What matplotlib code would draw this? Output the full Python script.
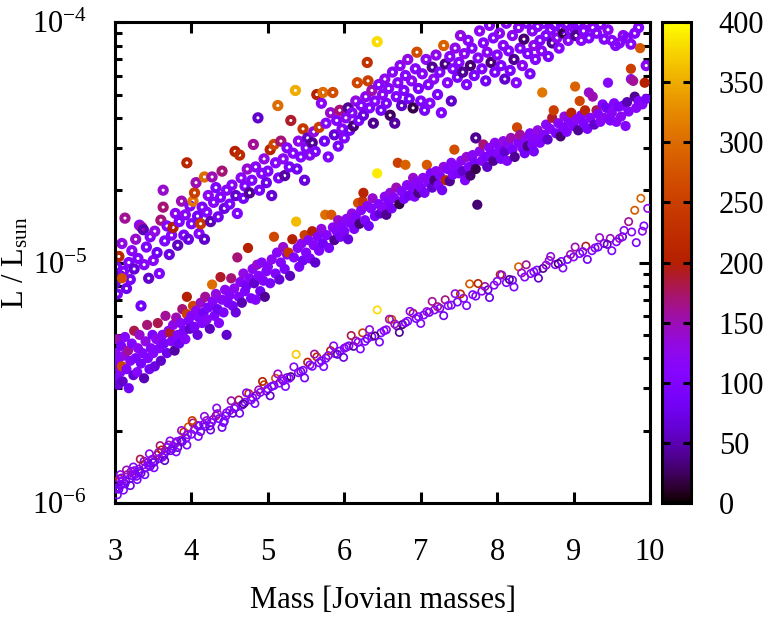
import numpy as np
import matplotlib
matplotlib.use("Agg")
import matplotlib.pyplot as plt
from matplotlib.ticker import FixedLocator, LogLocator, NullFormatter, FuncFormatter
from matplotlib.colors import Normalize

# (mass [M_J], luminosity [1e-6 L_sun], temperature)
ring_pts = [
    (3.00, 8.2, 80), (3.02, 9.6, 110), (3.03, 7.4, 95), (3.05, 10.6, 210), (3.07, 8.8, 60),
    (3.09, 12.0, 130), (3.11, 9.2, 100), (3.13, 15.3, 160), (3.15, 7.8, 75), (3.18, 10.0, 105),
    (3.20, 8.5, 90), (3.22, 11.2, 120), (3.25, 9.4, 65), (3.27, 12.5, 140), (3.30, 10.4, 100),
    (3.32, 14.3, 120), (3.35, 14.0, 150), (3.34, 6.6, 85), (3.37, 13.7, 50), (3.38, 9.8, 110),
    (3.41, 11.6, 95), (3.44, 8.6, 60), (3.46, 12.8, 105), (3.50, 10.2, 115), (3.52, 13.5, 130),
    (3.55, 11.0, 80), (3.58, 9.0, 100), (3.60, 15.0, 170), (3.63, 20.0, 140), (3.63, 17.0, 170),
    (3.65, 12.3, 95), (3.68, 14.2, 110), (3.71, 10.8, 70), (3.74, 13.0, 105), (3.76, 14.0, 200),
    (3.79, 16.0, 120), (3.82, 11.8, 55), (3.84, 14.8, 100), (3.87, 18.0, 150), (3.90, 13.0, 90),
    (3.92, 15.8, 115), (3.94, 26.0, 210), (3.96, 12.5, 70), (3.98, 17.2, 105), (4.00, 14.5, 100),
    (4.02, 18.0, 310), (4.04, 19.5, 250), (4.06, 21.5, 150), (4.08, 15.6, 85), (4.10, 13.2, 110),
    (4.12, 14.5, 240), (4.14, 17.0, 95), (4.17, 22.7, 300), (4.17, 12.5, 60), (4.20, 16.2, 105),
    (4.22, 19.0, 120), (4.25, 14.8, 50), (4.27, 22.7, 150), (4.29, 17.8, 110), (4.32, 20.5, 95),
    (4.35, 15.5, 80), (4.38, 18.7, 100), (4.40, 24.0, 170), (4.43, 16.8, 70), (4.46, 20.0, 115),
    (4.50, 17.5, 95), (4.53, 21.0, 110), (4.57, 29.0, 200), (4.58, 19.0, 60), (4.60, 16.0, 100),
    (4.63, 28.0, 220), (4.65, 22.5, 120), (4.68, 18.5, 85), (4.70, 20.8, 105), (4.73, 24.5, 140),
    (4.76, 19.5, 40), (4.79, 22.0, 100), (4.81, 31.0, 160), (4.84, 25.0, 115), (4.87, 40.0, 60),
    (4.89, 20.0, 90), (4.92, 23.5, 110), (4.95, 27.0, 130), (4.98, 21.5, 75), (5.00, 24.0, 100),
    (5.03, 29.5, 210), (5.05, 19.0, 65), (5.08, 31.0, 260), (5.10, 26.0, 110), (5.13, 45.0, 300),
    (5.14, 22.5, 95), (5.17, 32.0, 170), (5.20, 27.0, 120), (5.22, 23.0, 45), (5.25, 30.0, 105),
    (5.28, 25.0, 90), (5.30, 39.0, 190), (5.33, 28.5, 110), (5.36, 52.0, 350), (5.38, 24.5, 80),
    (5.40, 32.0, 125), (5.43, 27.5, 100), (5.46, 36.0, 240), (5.48, 22.0, 70), (5.50, 30.0, 105),
    (5.52, 33.0, 60), (5.55, 28.0, 115), (5.58, 31.5, 40), (5.60, 35.0, 130), (5.62, 29.0, 95),
    (5.64, 50.0, 200), (5.67, 36.5, 250), (5.70, 46.0, 120), (5.72, 51.0, 300), (5.74, 32.0, 85),
    (5.76, 38.0, 110), (5.79, 27.5, 100), (5.82, 42.0, 140), (5.85, 51.0, 270), (5.87, 34.0, 65),
    (5.90, 39.0, 105), (5.92, 30.5, 90), (5.94, 43.0, 170), (5.97, 36.0, 115), (6.00, 33.0, 100),
    (6.02, 40.0, 120), (6.05, 44.0, 40), (6.07, 35.5, 85), (6.10, 42.0, 105), (6.12, 37.0, 30),
    (6.15, 47.0, 130), (6.17, 56.0, 260), (6.19, 39.0, 95), (6.22, 45.0, 110), (6.25, 41.0, 70),
    (6.28, 49.0, 120), (6.31, 57.0, 250), (6.30, 68.0, 230), (6.33, 44.0, 100), (6.36, 52.0, 150),
    (6.38, 38.0, 40), (6.40, 47.0, 110), (6.43, 83.0, 380), (6.45, 55.0, 105), (6.48, 43.0, 85),
    (6.50, 50.0, 120), (6.53, 58.0, 125), (6.55, 46.0, 95), (6.58, 53.0, 110), (6.60, 41.0, 25),
    (6.63, 62.0, 115), (6.66, 38.0, 45), (6.68, 49.0, 100), (6.70, 56.0, 115), (6.73, 66.0, 120),
    (6.75, 45.0, 60), (6.78, 52.0, 100), (6.80, 60.0, 110), (6.83, 70.0, 130), (6.85, 48.0, 85),
    (6.88, 57.0, 120), (6.90, 44.0, 20), (6.93, 64.0, 105), (6.95, 75.0, 270), (6.97, 53.0, 95),
    (7.00, 47.0, 100), (7.02, 61.0, 115), (7.05, 43.0, 90), (7.07, 70.0, 120), (7.10, 55.0, 105),
    (7.12, 46.0, 110), (7.15, 65.0, 40), (7.17, 58.0, 120), (7.20, 73.0, 125), (7.22, 50.0, 95),
    (7.25, 62.0, 105), (7.27, 42.0, 100), (7.30, 80.0, 290), (7.32, 67.0, 35), (7.35, 56.0, 110),
    (7.38, 72.0, 115), (7.40, 47.0, 60), (7.42, 64.0, 100), (7.45, 78.0, 125), (7.48, 59.0, 90),
    (7.50, 68.0, 110), (7.52, 88.0, 130), (7.55, 62.0, 40), (7.57, 74.0, 120), (7.60, 55.0, 100),
    (7.62, 84.0, 115), (7.65, 66.0, 30), (7.67, 78.0, 105), (7.70, 60.0, 95), (7.72, 33.0, 40),
    (7.75, 71.0, 115), (7.77, 92.0, 120), (7.80, 64.0, 100), (7.82, 82.0, 110), (7.85, 57.0, 85),
    (7.87, 75.0, 120), (7.90, 97.0, 115), (7.92, 68.0, 30), (7.95, 86.0, 105), (7.97, 62.0, 95),
    (8.00, 73.0, 110), (8.03, 90.0, 120), (8.05, 66.0, 100), (8.08, 80.0, 115), (8.10, 58.0, 60),
    (8.12, 99.0, 115), (8.15, 76.0, 105), (8.17, 63.0, 95), (8.20, 88.0, 120), (8.22, 70.0, 40),
    (8.25, 56.0, 110), (8.28, 95.0, 120), (8.30, 78.0, 105), (8.33, 66.0, 120), (8.35, 85.0, 30),
    (8.38, 99.0, 110), (8.40, 74.0, 100), (8.43, 61.0, 90), (8.46, 92.0, 115), (8.48, 80.0, 125),
    (8.50, 70.0, 105), (8.53, 96.0, 110), (8.56, 84.0, 100), (8.58, 76.0, 120), (8.61, 99.0, 115),
    (8.64, 88.0, 100), (8.67, 72.0, 95), (8.70, 93.0, 110), (8.72, 82.0, 40), (8.75, 97.0, 105),
    (8.78, 86.0, 120), (8.81, 78.0, 110), (8.84, 94.0, 100), (8.87, 90.0, 20), (8.90, 98.0, 105),
    (8.93, 84.0, 115), (8.96, 92.0, 100), (9.00, 95.0, 110), (9.03, 88.0, 40), (9.06, 98.0, 100),
    (9.10, 84.0, 120), (9.13, 92.0, 105), (9.17, 99.0, 115), (9.20, 86.0, 100), (9.25, 95.0, 120),
    (9.30, 90.0, 105), (9.35, 98.0, 110), (9.40, 85.0, 100), (9.45, 93.0, 120), (9.50, 84.0, 115),
    (9.55, 80.0, 105), (9.60, 82.0, 110), (9.65, 88.0, 120), (9.70, 86.0, 100), (9.75, 81.0, 115),
    (9.80, 90.0, 105), (9.85, 95.0, 110), (9.95, 66.0, 120),
]

filled_pts = [
    (3.00, 3.3, 100), (3.01, 4.2, 120), (3.02, 3.7, 90), (3.03, 4.8, 150), (3.04, 3.1, 70),
    (3.05, 4.0, 105), (3.07, 3.5, 110), (3.08, 4.5, 95), (3.09, 3.7, 260), (3.09, 8.6, 270),
    (3.10, 3.2, 60), (3.12, 4.1, 130), (3.13, 4.9, 110), (3.15, 3.6, 100), (3.17, 4.3, 160),
    (3.18, 3.0, 80), (3.20, 3.9, 115), (3.22, 4.6, 100), (3.24, 3.4, 65), (3.25, 5.2, 180),
    (3.27, 4.0, 95), (3.29, 3.5, 110), (3.30, 4.4, 120), (3.32, 5.0, 140), (3.34, 3.8, 90),
    (3.36, 4.2, 105), (3.38, 3.3, 50), (3.40, 4.7, 130), (3.42, 5.5, 170), (3.43, 4.0, 100),
    (3.45, 3.6, 85), (3.47, 4.4, 110), (3.49, 5.0, 95), (3.50, 4.2, 105), (3.52, 3.7, 70),
    (3.54, 4.8, 120), (3.56, 5.6, 180), (3.58, 4.4, 100), (3.60, 3.9, 60), (3.62, 5.0, 115),
    (3.64, 4.6, 90), (3.66, 6.0, 160), (3.68, 4.2, 75), (3.70, 5.2, 110), (3.72, 5.1, 190),
    (3.74, 4.7, 100), (3.76, 5.5, 125), (3.78, 4.3, 45), (3.80, 5.9, 150), (3.82, 5.0, 105),
    (3.84, 4.6, 80), (3.86, 5.6, 115), (3.88, 6.4, 170), (3.90, 5.2, 95), (3.92, 4.8, 110),
    (3.94, 7.2, 200), (3.94, 6.1, 250), (3.96, 5.7, 100), (3.98, 5.3, 60), (4.00, 6.0, 105),
    (4.02, 6.6, 260), (4.04, 5.4, 90), (4.06, 6.3, 120), (4.08, 5.0, 70), (4.10, 5.9, 110),
    (4.12, 6.8, 140), (4.14, 5.6, 100), (4.16, 6.2, 85), (4.18, 7.2, 160), (4.20, 5.8, 115),
    (4.22, 6.5, 95), (4.24, 5.3, 55), (4.27, 8.1, 300), (4.28, 6.9, 110), (4.30, 6.0, 100),
    (4.32, 7.4, 130), (4.34, 6.4, 80), (4.36, 5.6, 105), (4.38, 8.7, 190), (4.40, 7.0, 115),
    (4.42, 6.2, 95), (4.44, 7.7, 120), (4.46, 5.0, 60), (4.48, 6.8, 100), (4.50, 7.3, 110),
    (4.52, 8.6, 170), (4.54, 6.6, 90), (4.56, 7.8, 120), (4.58, 6.2, 70), (4.60, 10.5, 170),
    (4.62, 7.2, 105), (4.64, 8.3, 115), (4.66, 6.8, 50), (4.68, 9.0, 130), (4.70, 7.6, 100),
    (4.72, 8.0, 85), (4.74, 11.5, 200), (4.76, 8.6, 110), (4.78, 7.1, 95), (4.80, 9.4, 120),
    (4.82, 8.2, 60), (4.84, 7.0, 100), (4.86, 9.8, 140), (4.88, 8.8, 110), (4.90, 7.6, 80),
    (4.92, 10.0, 115), (4.94, 8.4, 100), (4.96, 7.2, 40), (4.98, 9.2, 105), (5.00, 9.6, 110),
    (5.03, 8.2, 90), (5.05, 10.3, 120), (5.08, 12.8, 260), (5.10, 9.0, 100), (5.12, 11.0, 115),
    (5.15, 8.5, 65), (5.17, 10.0, 105), (5.20, 11.6, 140), (5.22, 9.4, 95), (5.25, 10.8, 110),
    (5.27, 11.0, 240), (5.29, 8.8, 55), (5.32, 12.5, 200), (5.34, 10.5, 100), (5.37, 14.8, 360),
    (5.39, 11.5, 115), (5.41, 9.6, 90), (5.44, 12.0, 120), (5.46, 10.2, 80), (5.48, 13.0, 250),
    (5.50, 11.0, 105), (5.53, 12.4, 110), (5.55, 10.4, 95), (5.58, 13.5, 200), (5.60, 11.8, 115),
    (5.62, 10.0, 60), (5.65, 12.8, 105), (5.67, 11.2, 100), (5.70, 13.8, 130), (5.72, 12.0, 85),
    (5.75, 15.8, 300), (5.77, 13.0, 110), (5.80, 11.5, 95), (5.83, 15.8, 280), (5.85, 14.0, 120),
    (5.87, 12.4, 40), (5.90, 13.5, 105), (5.92, 15.0, 140), (5.95, 12.8, 90), (5.97, 14.4, 110),
    (6.00, 13.5, 100), (6.03, 15.2, 120), (6.05, 12.5, 70), (6.08, 14.6, 110), (6.10, 16.0, 130),
    (6.13, 13.8, 95), (6.15, 15.5, 105), (6.18, 17.7, 270), (6.20, 14.5, 30), (6.22, 16.5, 115),
    (6.24, 18.0, 240), (6.25, 19.5, 210), (6.27, 15.0, 100), (6.30, 17.2, 120), (6.32, 14.2, 85),
    (6.35, 16.8, 110), (6.37, 18.5, 140), (6.40, 15.6, 95), (6.43, 23.5, 390), (6.45, 17.5, 105),
    (6.47, 16.0, 60), (6.50, 17.0, 115), (6.53, 18.8, 120), (6.55, 15.8, 40), (6.58, 18.0, 100),
    (6.60, 19.5, 130), (6.62, 16.8, 90), (6.65, 18.6, 110), (6.68, 20.5, 150), (6.70, 26.0, 250),
    (6.72, 17.5, 20), (6.75, 19.8, 105), (6.78, 18.4, 95), (6.80, 25.5, 290), (6.82, 21.0, 120),
    (6.85, 19.0, 80), (6.88, 20.6, 110), (6.90, 22.5, 140), (6.92, 18.8, 100), (6.95, 21.5, 115),
    (6.97, 19.5, 35), (7.00, 20.5, 105), (7.03, 22.5, 120), (7.05, 19.5, 90), (7.08, 25.5, 280),
    (7.10, 21.5, 110), (7.13, 23.5, 100), (7.15, 20.5, 60), (7.18, 22.0, 30), (7.20, 24.0, 120),
    (7.23, 21.0, 95), (7.25, 23.0, 110), (7.28, 20.0, 85), (7.30, 25.0, 130), (7.33, 22.0, 210),
    (7.35, 24.5, 105), (7.38, 21.8, 40), (7.40, 26.0, 115), (7.42, 23.2, 100), (7.44, 29.5, 270),
    (7.47, 25.0, 110), (7.50, 23.5, 95), (7.53, 26.5, 120), (7.55, 24.0, 60), (7.58, 22.0, 100),
    (7.60, 27.5, 140), (7.63, 25.0, 105), (7.65, 23.0, 30), (7.68, 28.0, 115), (7.70, 26.0, 90),
    (7.72, 24.5, 20), (7.74, 17.4, 30), (7.77, 29.0, 120), (7.80, 26.5, 105), (7.82, 31.0, 170),
    (7.85, 27.5, 95), (7.87, 25.0, 60), (7.90, 30.0, 110), (7.92, 28.0, 100), (7.95, 26.5, 40),
    (7.97, 31.5, 120), (8.00, 28.5, 105), (8.03, 30.5, 110), (8.05, 27.0, 90), (8.08, 32.0, 130),
    (8.10, 29.0, 60), (8.13, 26.5, 100), (8.15, 31.0, 115), (8.18, 33.0, 150), (8.20, 29.5, 95),
    (8.23, 27.5, 40), (8.26, 36.5, 260), (8.28, 31.5, 105), (8.30, 34.0, 160), (8.33, 30.0, 110),
    (8.36, 28.5, 85), (8.38, 32.5, 120), (8.40, 30.5, 35), (8.43, 34.5, 110), (8.46, 31.0, 100),
    (8.48, 29.0, 90), (8.50, 33.0, 115), (8.53, 35.5, 130), (8.56, 31.5, 100), (8.59, 51.0, 310),
    (8.61, 34.0, 105), (8.64, 37.5, 120), (8.66, 32.5, 60), (8.69, 36.0, 110), (8.72, 40.0, 190),
    (8.74, 43.0, 250), (8.77, 34.5, 95), (8.80, 38.0, 115), (8.83, 33.5, 30), (8.86, 36.5, 105),
    (8.88, 40.5, 130), (8.91, 35.0, 100), (8.94, 38.5, 110), (8.97, 42.0, 210), (9.00, 37.0, 105),
    (9.02, 54.0, 290), (9.04, 39.5, 120), (9.06, 35.5, 40), (9.08, 47.0, 260), (9.10, 41.0, 110),
    (9.13, 38.0, 100), (9.15, 43.0, 210), (9.18, 36.0, 95), (9.20, 51.0, 140), (9.22, 40.0, 115),
    (9.25, 49.0, 150), (9.27, 37.5, 60), (9.30, 43.0, 180), (9.32, 41.5, 105), (9.35, 38.5, 110),
    (9.38, 45.5, 100), (9.40, 40.0, 120), (9.43, 44.0, 80), (9.45, 56.0, 110), (9.48, 39.0, 100),
    (9.50, 42.0, 115), (9.53, 46.0, 105), (9.56, 38.5, 110), (9.59, 44.5, 90), (9.62, 40.5, 120),
    (9.65, 45.0, 100), (9.68, 37.0, 110), (9.70, 46.5, 50), (9.72, 42.5, 105), (9.75, 64.0, 250),
    (9.75, 58.0, 130), (9.78, 57.0, 160), (9.80, 49.0, 40), (9.82, 44.0, 115), (9.85, 47.0, 100),
    (9.87, 78.0, 280), (9.90, 45.5, 110), (9.93, 56.0, 200), (9.95, 48.0, 90),
]

open_pts = [
    (3.00, 1.14, 85), (3.02, 1.22, 140), (3.04, 1.16, 100), (3.06, 1.26, 220), (3.08, 1.19, 60),
    (3.10, 1.24, 110), (3.13, 1.20, 90), (3.16, 1.31, 170), (3.19, 1.26, 105), (3.22, 1.30, 75),
    (3.25, 1.36, 125), (3.28, 1.29, 95), (3.31, 1.38, 110), (3.34, 1.33, 65), (3.37, 1.44, 150),
    (3.40, 1.40, 100), (3.43, 1.47, 115), (3.46, 1.42, 80), (3.49, 1.52, 120), (3.52, 1.49, 95),
    (3.55, 1.58, 180), (3.58, 1.53, 100), (3.61, 1.66, 200), (3.64, 1.58, 85), (3.67, 1.64, 110),
    (3.70, 1.74, 160), (3.73, 1.65, 70), (3.76, 1.72, 100), (3.79, 1.77, 120), (3.82, 1.70, 55),
    (3.86, 1.82, 105), (3.90, 1.97, 240), (3.93, 1.86, 95), (3.96, 2.07, 270), (4.00, 1.93, 100),
    (4.04, 2.02, 115), (4.08, 2.10, 130), (4.12, 1.98, 70), (4.16, 2.12, 100), (4.20, 2.20, 140),
    (4.24, 2.09, 85), (4.28, 2.22, 105), (4.32, 2.30, 160), (4.36, 2.24, 95), (4.40, 2.06, 75),
    (4.42, 2.16, 90), (4.46, 2.37, 110), (4.50, 2.42, 120), (4.54, 2.36, 60), (4.58, 2.50, 100),
    (4.62, 2.68, 180), (4.66, 2.55, 110), (4.70, 2.62, 95), (4.75, 2.85, 230), (4.80, 2.74, 105),
    (4.85, 2.80, 70), (4.90, 2.88, 115), (4.95, 3.10, 250), (5.00, 2.98, 100), (5.05, 3.05, 90),
    (5.10, 3.30, 280), (5.15, 3.15, 120), (5.20, 3.22, 85), (5.25, 3.32, 105), (5.30, 3.35, 35),
    (5.37, 4.15, 370), (5.40, 3.48, 100), (5.46, 3.56, 115), (5.52, 3.85, 200), (5.58, 3.70, 95),
    (5.64, 4.05, 230), (5.70, 3.90, 105), (5.76, 4.00, 80), (5.82, 4.30, 210), (5.88, 4.18, 110),
    (5.94, 4.28, 95), (6.00, 4.40, 100), (6.06, 4.50, 120), (6.12, 4.48, 40), (6.18, 4.66, 105),
    (6.24, 5.10, 250), (6.30, 4.82, 90), (6.36, 4.92, 110), (6.43, 6.35, 380), (6.48, 5.10, 100),
    (6.55, 5.25, 120), (6.62, 5.80, 270), (6.69, 5.45, 95), (6.76, 5.52, 30), (6.83, 5.70, 105),
    (6.90, 6.15, 180), (6.97, 5.95, 110), (7.04, 6.05, 100), (7.11, 6.20, 85), (7.18, 6.35, 120),
    (7.25, 6.45, 95), (7.32, 7.00, 170), (7.40, 6.65, 105), (7.48, 6.85, 90), (7.56, 7.10, 110),
    (7.64, 8.15, 280), (7.72, 7.25, 95), (7.80, 7.60, 120), (7.88, 7.70, 60), (7.96, 8.05, 110),
    (8.04, 8.90, 190), (8.12, 8.25, 100), (8.20, 8.45, 85), (8.28, 9.60, 290), (8.36, 8.70, 105),
    (8.44, 9.00, 120), (8.52, 9.30, 95), (8.60, 9.45, 40), (8.68, 10.2, 150), (8.76, 9.80, 110),
    (8.84, 10.1, 100), (8.92, 10.3, 85), (9.00, 10.55, 120), (9.08, 10.9, 95), (9.16, 11.7, 190),
    (9.24, 11.2, 105), (9.32, 11.6, 80), (9.40, 12.0, 110), (9.48, 12.6, 150), (9.56, 12.2, 100),
    (9.64, 12.8, 70), (9.72, 14.8, 160), (9.80, 16.5, 280), (9.88, 18.5, 290), (9.90, 13.5, 120),
    (9.97, 16.8, 130), (3.01, 1.19, 100), (3.05, 1.14, 80), (3.09, 1.27, 120), (3.14, 1.23, 95),
    (3.21, 1.35, 140), (3.26, 1.31, 100), (3.32, 1.35, 85), (3.38, 1.49, 130), (3.44, 1.43, 100),
    (3.50, 1.47, 70), (3.57, 1.62, 150), (3.62, 1.55, 110), (3.68, 1.70, 120), (3.75, 1.68, 90),
    (3.81, 1.80, 130), (3.88, 1.80, 60), (3.95, 1.92, 110), (4.02, 2.15, 170), (4.10, 2.09, 100),
    (4.18, 2.08, 80), (4.26, 2.16, 110), (4.34, 2.35, 140), (4.45, 2.30, 95), (4.56, 2.47, 120),
    (4.68, 2.58, 40), (4.78, 2.68, 100), (4.88, 2.95, 150), (4.98, 2.92, 110), (5.08, 3.08, 90),
    (5.18, 3.28, 130), (5.28, 3.30, 100), (5.43, 3.52, 75), (5.55, 3.75, 120), (5.67, 3.83, 95),
    (5.79, 4.10, 130), (5.91, 4.15, 60), (6.03, 4.45, 110), (6.15, 4.72, 140), (6.27, 4.70, 95),
    (6.40, 4.95, 30), (6.52, 5.20, 110), (6.66, 5.55, 150), (6.80, 5.62, 100), (6.94, 5.85, 90),
    (7.08, 6.25, 130), (7.22, 6.55, 160), (7.36, 6.62, 100), (7.52, 7.40, 220), (7.68, 7.35, 110),
    (7.84, 7.95, 150), (8.00, 8.35, 120), (8.16, 8.50, 40), (8.32, 9.05, 140), (8.48, 9.15, 105),
    (8.64, 9.75, 130), (8.80, 9.90, 30), (8.96, 10.8, 150), (9.12, 11.1, 100), (9.28, 11.5, 120),
    (9.44, 11.9, 50), (9.60, 12.6, 140), (9.76, 13.4, 110),
    (3.03, 1.08, 90), (3.07, 1.31, 120), (3.11, 1.13, 100), (3.15, 1.37, 150), (3.20, 1.18, 70),
    (3.24, 1.41, 110), (3.29, 1.25, 95), (3.33, 1.52, 180), (3.39, 1.31, 85), (3.45, 1.60, 120),
    (3.51, 1.40, 100), (3.59, 1.73, 170), (3.65, 1.50, 60), (3.72, 1.81, 115), (3.80, 1.63, 100),
    (3.87, 2.00, 140), (3.94, 1.74, 90), (4.01, 2.20, 250), (4.09, 1.89, 100), (4.17, 2.29, 130),
    (4.25, 2.01, 75), (4.33, 2.48, 120), (4.43, 2.19, 100), (4.52, 2.66, 150), (4.63, 2.36, 80),
    (4.72, 2.87, 110), (4.83, 2.59, 95), (4.93, 3.20, 200), (5.03, 2.79, 60), (5.13, 3.44, 140),
    (5.23, 3.05, 100), (5.34, 3.68, 115), (5.48, 3.31, 85), (5.61, 4.16, 160), (5.73, 3.69, 100),
    (5.86, 4.50, 120), (5.99, 4.03, 70), (6.09, 4.97, 180), (6.21, 4.37, 100), (6.33, 5.26, 130),
    (6.46, 4.67, 90), (6.59, 5.81, 150), (6.72, 5.12, 40), (6.86, 6.26, 120), (7.00, 5.58, 100),
    (7.15, 6.89, 160), (7.30, 6.01, 80), (7.45, 7.42, 130), (7.60, 6.62, 100), (7.75, 8.18, 210),
    (7.90, 7.15, 70), (8.06, 8.87, 140), (8.22, 7.91, 100), (8.38, 9.79, 160), (8.54, 8.61, 60),
    (8.70, 10.6, 130), (8.86, 9.49, 100), (9.02, 11.6, 150), (9.18, 10.3, 80), (9.34, 12.7, 140),
    (9.50, 11.2, 100), (9.66, 13.6, 120), (9.82, 12.1, 90), (9.92, 14.2, 110),
]

ring_mass, ring_lum, ring_temp = np.array(ring_pts).T
filled_mass, filled_lum, filled_temp = np.array(filled_pts).T
open_mass, open_lum, open_temp = np.array(open_pts).T

x_ticks = [3, 4, 5, 6, 7, 8, 9, 10]
cb_ticks = [0, 50, 100, 150, 200, 250, 300, 350, 400]

plt.rcParams['font.family'] = ['Liberation Serif', 'DejaVu Serif']
plt.rcParams['mathtext.fontset'] = 'custom'
plt.rcParams['mathtext.rm'] = 'Liberation Serif'
plt.rcParams['mathtext.it'] = 'Liberation Serif:italic'
plt.rcParams['mathtext.default'] = 'regular'

FS = 22
LW = 2.2

fig = plt.figure(figsize=(7.72, 6.17), dpi=100)
ax = fig.add_axes([0.149, 0.185, 0.693, 0.779])
cax = fig.add_axes([0.8575, 0.185, 0.0376, 0.779])

cmap = plt.get_cmap('gnuplot')
norm = Normalize(vmin=0, vmax=400)

# thick rings, filled dots, thin open circles
ax.scatter(ring_mass, ring_lum * 1e-6, s=27, facecolors='none',
           edgecolors=cmap(norm(ring_temp)), linewidths=2.9, zorder=2)
ax.scatter(filled_mass, filled_lum * 1e-6, s=54, c=filled_temp, cmap=cmap,
           norm=norm, edgecolors='none', zorder=3)
ax.scatter(open_mass, open_lum * 1e-6, s=28, facecolors='none',
           edgecolors=cmap(norm(open_temp)), linewidths=1.2, zorder=4)

ax.set_yscale('log')
ax.set_xlim(3, 10)
ax.set_ylim(1e-6, 1e-4)
ax.xaxis.set_major_locator(FixedLocator(x_ticks))
ax.yaxis.set_major_locator(LogLocator(base=10, numticks=10))
ax.yaxis.set_minor_locator(LogLocator(base=10, subs=np.arange(2, 10), numticks=10))
ax.yaxis.set_minor_formatter(NullFormatter())
ax.yaxis.set_major_formatter(FuncFormatter(lambda v, p: r'$10^{%d}$' % round(np.log10(v))))

ax.tick_params(which='both', direction='in', top=True, right=True, width=LW, labelsize=FS)
ax.tick_params(which='major', length=8)
ax.tick_params(which='minor', length=5)
ax.tick_params(axis='x', pad=25)
ax.tick_params(axis='y', pad=20)
for sp in ax.spines.values():
    sp.set_linewidth(LW)

ax.set_xlabel('Mass [Jovian masses]', fontsize=FS, labelpad=14)
ax.set_ylabel(r'L / L$_{sun}$', fontsize=FS)
ax.yaxis.set_label_coords(-0.158, 0.5)

sm = plt.cm.ScalarMappable(cmap=cmap, norm=norm)
cb = fig.colorbar(sm, cax=cax, ticks=cb_ticks)
cb.outline.set_linewidth(LW)
cax.tick_params(direction='in', left=True, right=True, length=6, width=LW,
                labelsize=FS, pad=20)

fig.savefig('out.png', dpi=100)
